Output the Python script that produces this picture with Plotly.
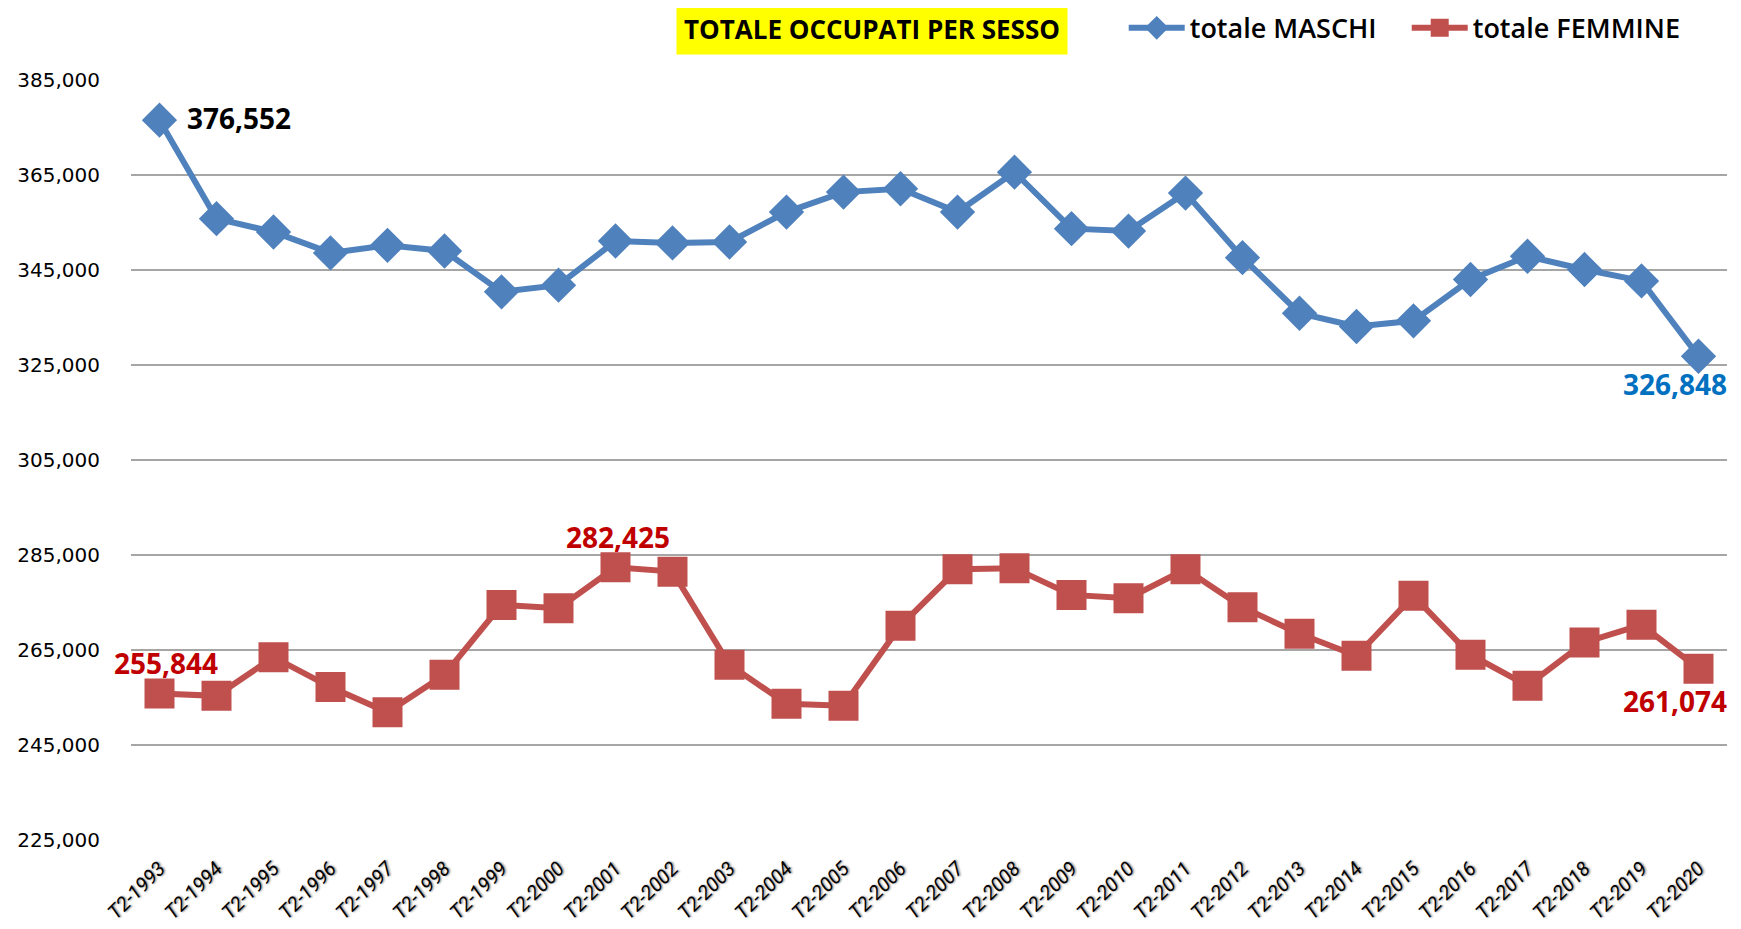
import plotly.graph_objects as go

periods = [f"T2-{y}" for y in range(1993, 2021)]

maschi = [
    376552, 355800, 353000, 348600, 350200, 349000, 340400, 341800,
    351100, 350700, 350900, 357200, 361400, 362100, 357200, 365600,
    353700, 353200, 361200, 347600, 335900, 333100, 334300, 343000,
    347900, 345100, 342700, 326848,
]
femmine = [
    255844, 255350, 263500, 257200, 251900, 259800, 274500, 273800,
    282425, 281500, 261900, 253700, 253250, 270100, 282000, 282200,
    276600, 275900, 282000, 274000, 268400, 263800, 276400, 264000,
    257500, 266600, 270300, 261074,
]
y_ticks = list(range(225000, 385001, 20000))

BLUE = "#4F81BD"
RED = "#C0504D"
LABEL_FONT = "Open Sans"

fig = go.Figure()
fig.add_trace(go.Scatter(
    x=periods, y=maschi, name="totale MASCHI",
    mode="lines+markers",
    line=dict(color=BLUE, width=6),
    marker=dict(symbol="diamond", size=25, color=BLUE,
                line=dict(color=BLUE, width=2)),
))
fig.add_trace(go.Scatter(
    x=periods, y=femmine, name="totale FEMMINE",
    mode="lines+markers",
    line=dict(color=RED, width=6),
    marker=dict(symbol="square", size=28, color=RED,
                line=dict(color=RED, width=2)),
))

# data labels: (x, y, colour, anchor, xshift, yshift)
labels = [
    (periods[0], maschi[0], "#000000", "left", 25, 2),
    (periods[-1], maschi[-1], "#0070C0", "right", 30, -28),
    (periods[0], femmine[0], "#C00000", "center", 6, 30),
    (periods[8], femmine[8], "#C00000", "center", 2, 30),
    (periods[-1], femmine[-1], "#C00000", "right", 30, -32),
]
for x, y, color, align, xs, ys in labels:
    fig.add_annotation(
        x=x, y=y, text=f"{y:,}", showarrow=False,
        xanchor=align, yanchor="middle", xshift=xs, yshift=ys,
        font=dict(family=LABEL_FONT, size=28, color=color, weight="bold"),
    )

fig.add_annotation(
    xref="paper", yref="paper", x=0.464, y=1.067,
    text="TOTALE OCCUPATI PER SESSO", showarrow=False,
    bgcolor="#FFFF00", borderpad=7,
    xanchor="center", yanchor="middle",
    font=dict(family="Open Sans", size=26, color="#000000", weight="bold"),
)

# the page body adds an 8px offset, margins account for it
fig.update_layout(
    width=1741, height=929,
    paper_bgcolor="white", plot_bgcolor="white",
    margin=dict(l=123, r=22, t=72, b=97, autoexpand=False),
    font=dict(family="DejaVu Sans", color="#000000"),
    showlegend=True,
    legend=dict(
        orientation="h", x=0.622, y=1.068, xanchor="left", yanchor="middle",
        font=dict(family="Open Sans", size=27, color="#000000", weight=600),
        itemwidth=56, entrywidth=212, entrywidthmode="pixels",
        bgcolor="rgba(0,0,0,0)",
    ),
    xaxis=dict(
        type="category", range=[-0.5, 27.5],
        showgrid=False, showline=False, zeroline=False,
        tickangle=-45, ticks="", ticklabelstandoff=12,
        tickfont=dict(family="Roboto", size=20, color="#000000",
                      style="italic", shadow="1px 1px 2px #888888"),
    ),
    yaxis=dict(
        range=[225000, 385000], tickvals=y_ticks, tickformat=",",
        showgrid=True, gridcolor="#A6A6A6", gridwidth=1.5,
        zeroline=False, showline=False, ticks="", ticklabelstandoff=30,
        tickfont=dict(family="DejaVu Sans", size=20, color="#000000"),
    ),
)

fig.write_html("out.html")
